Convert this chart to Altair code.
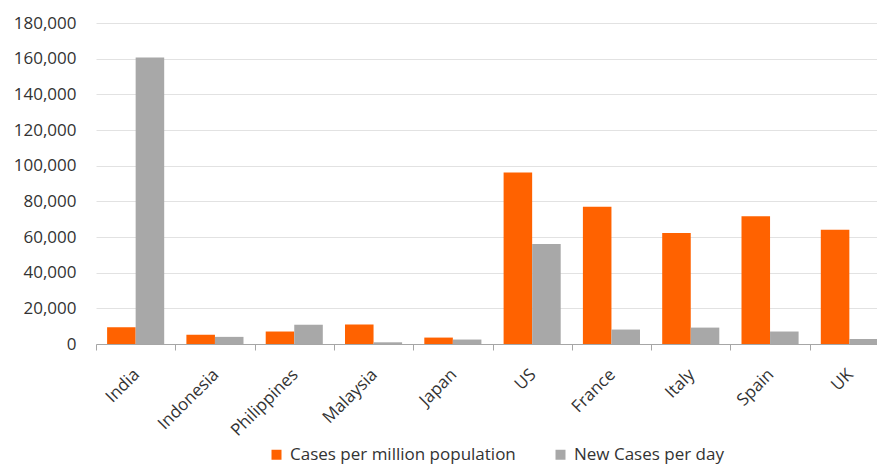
import altair as alt
import pandas as pd

# Country groups along the x axis
countries = ["India", "Indonesia", "Philippines", "Malaysia", "Japan",
             "US", "France", "Italy", "Spain", "UK"]

# Series values
cases_per_million = [9400, 5200, 7000, 10900, 3600, 96200, 76900, 62300, 71700, 64000]
new_cases_per_day = [160700, 4000, 10800, 950, 2500, 56100, 8100, 9200, 7000, 2800]

series_names = ["Cases per million population", "New Cases per day"]
series_colors = ["#FF6200", "#A8A8A8"]

y_ticks = list(range(0, 180001, 20000))

rows = []
for c, a, b in zip(countries, cases_per_million, new_cases_per_day):
    rows.append({"country": c, "series": series_names[0], "value": a})
    rows.append({"country": c, "series": series_names[1], "value": b})
df = pd.DataFrame(rows)

FONT = "Open Sans"
STEP = 79.3

chart = (
    alt.Chart(df)
    .mark_bar()
    .encode(
        x=alt.X(
            "country:N",
            sort=countries,
            scale=alt.Scale(range=[0, STEP * len(countries)],
                            paddingInner=0.28, paddingOuter=0.14),
            axis=alt.Axis(
                title=None,
                labelAngle=-45,
                labelFontSize=17,
                labelColor="#333333",
                labelFont=FONT,
                labelPadding=16,
                labelLimit=400,
                tickOffset=-STEP / 2,
                labelOffset=STEP / 2 - 5,
                tickSize=6,
                tickColor="#a6a6a6",
                domainColor="#a6a6a6",
                grid=False,
            ),
        ),
        xOffset=alt.XOffset("series:N", sort=series_names),
        y=alt.Y(
            "value:Q",
            scale=alt.Scale(domain=[0, 180000], nice=False),
            axis=alt.Axis(
                title=None,
                values=y_ticks,
                format=",.0f",
                labelFontSize=17,
                labelColor="#333333",
                labelFont=FONT,
                labelPadding=20,
                ticks=False,
                domain=False,
                gridColor="#e2e2e2",
                gridWidth=1,
            ),
        ),
        color=alt.Color(
            "series:N",
            scale=alt.Scale(domain=series_names, range=series_colors),
            legend=alt.Legend(
                title=None,
                orient="none",
                direction="horizontal",
                legendX=172,
                legendY=423,
                symbolType="square",
                symbolSize=100,
                symbolStrokeWidth=0,
                labelFontSize=17,
                labelFont=FONT,
                labelColor="#333333",
                labelOffset=5,
                labelLimit=400,
                columnPadding=36,
            ),
        ),
    )
    .properties(
        width=781,
        height=321,
        autosize=alt.AutoSizeParams(type="none"),
        padding={"left": 96, "top": 23, "right": 0, "bottom": 122},
    )
    .configure_view(stroke=None)
)

chart.save("out.html", embed_options={"renderer": "svg", "actions": False})
